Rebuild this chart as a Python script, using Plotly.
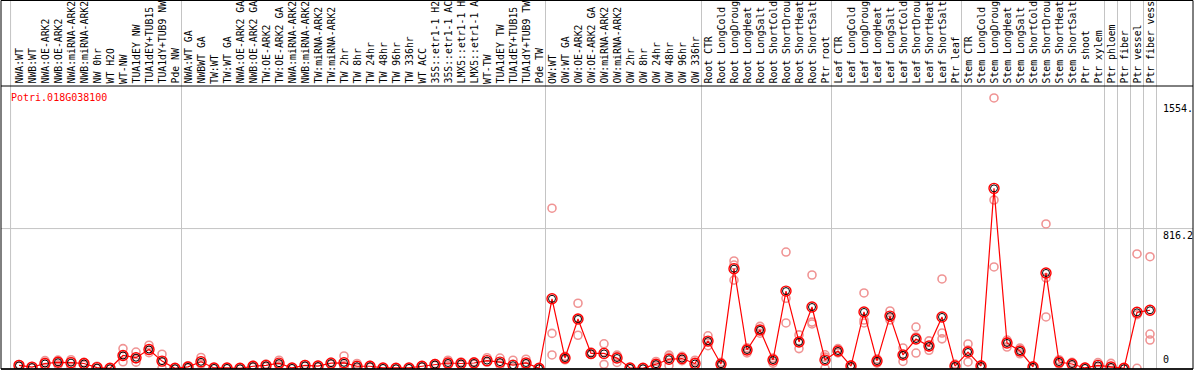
import plotly.graph_objects as go

categories = [
    "NWA:WT", "NWB:WT", "NWA:OE-ARK2", "NWB:OE-ARK2", "NWA:miRNA-ARK2", "NWB:miRNA-ARK2",
    "NW 0hr", "WT H2O", "WT-NW", "TUA1dEY NW", "TUA1dEY+TUB15 NW", "TUA1dY+TUB9 NW", "Pde NW",
    "NWA:WT GA", "NWBWT GA", "TW:WT", "TW:WT GA", "NWA:OE-ARK2 GA", "NWB:OE-ARK2 GA",
    "TW:OE-ARK2", "TW:OE-ARK2 GA", "NWA:miRNA-ARK2 GA", "NWB:miRNA-ARK2 GA", "TW:miRNA-ARK2",
    "TW:miRNA-ARK2 GA", "TW 2hr", "TW 8hr", "TW 24hr", "TW 48hr", "TW 96hr", "TW 336hr",
    "WT ACC", "35S::etr1-1 H2O", "35S::etr1-1 ACC", "LMX5::etr1-1 H2O", "LMX5::etr1-1 ACC",
    "WT-TW", "TUA1dEY TW", "TUA1dEY+TUB15 TW", "TUA1dY+TUB9 TW", "Pde TW",
    "OW:WT", "OW:WT GA", "OW:OE-ARK2", "OW:OE-ARK2 GA", "OW:miRNA-ARK2", "OW:miRNA-ARK2 GA",
    "OW 2hr", "OW 8hr", "OW 24hr", "OW 48hr", "OW 96hr", "OW 336hr",
    "Root CTR", "Root LongCold", "Root LongDrought", "Root LongHeat", "Root LongSalt",
    "Root ShortCold", "Root ShortDrought", "Root ShortHeat", "Root ShortSalt", "Ptr root",
    "Leaf CTR", "Leaf LongCold", "Leaf LongDrought", "Leaf LongHeat", "Leaf LongSalt",
    "Leaf ShortCold", "Leaf ShortDrought", "Leaf ShortHeat", "Leaf ShortSalt", "Ptr leaf",
    "Stem CTR", "Stem LongCold", "Stem LongDrought", "Stem LongHeat", "Stem LongSalt",
    "Stem ShortCold", "Stem ShortDrought", "Stem ShortHeat", "Stem ShortSalt", "Ptr shoot",
    "Ptr xylem", "Ptr phloem", "Ptr fiber", "Ptr vessel", "Ptr fiber vessel",
]

mean_values = [
    17, 7, 28, 35, 33, 28, 4, 0, 75, 62, 110, 42, 0,
    8, 38, 2, 2, 0, 12, 17, 30, 2, 17, 13, 30, 32, 12, 12, 2, 0, 2, 12, 22, 31, 28, 31, 45, 36, 18, 31, 0,
    406, 60, 288, 87, 87, 60, 2, 0, 24, 53, 57, 28,
    159, 24, 582, 107, 224, 48, 451, 154, 358, 48,
    101, 13, 329, 43, 305, 78, 171, 130, 300, 13,
    95, 13, 1051, 148, 101, 8, 557, 37, 25, 2,
    17, 8, 0, 327, 339,
]

rep1 = [
    22, 10, 45, 48, 50, 35, 12, 0, 115, 95, 135, 82, 0,
    15, 63, 4, 4, 0, 18, 25, 47, 4, 22, 18, 36, 72, 28, 18, 4, 0, 4, 16, 28, 47, 37, 38, 62, 60, 47, 53, 0,
    935, 70, 380, 95, 143, 77, 4, 0, 40, 77, 70, 47,
    190, 35, 627, 120, 245, 60, 679, 195, 545, 65,
    115, 20, 440, 55, 335, 119, 241, 160, 522, 25,
    142, 20, 1579, 165, 118, 14, 843, 50, 35, 6,
    33, 29, 0, 668, 652,
]
rep2 = [
    12, 4, 5, 20, 10, 18, 0, 0, 38, 36, 104, 44, 0,
    2, 25, 0, 0, 0, 6, 10, 15, 0, 12, 8, 24, 10, 4, 6, 0, 0, 0, 8, 16, 18, 20, 24, 38, 30, 5, 28, 0,
    204, 50, 193, 80, 23, 34, 0, 0, 10, 17, 45, 0,
    132, 12, 603, 90, 205, 30, 265, 115, 270, 0,
    90, 5, 282, 30, 282, 40, 183, 105, 206, 5,
    37, 5, 983, 124, 85, 0, 300, 25, 15, 0,
    8, 0, 0, 0, 200,
]
rep3 = [
    17, 7, 34, 37, 39, 31, 0, 0, 72, 55, 91, 0, 0,
    7, 26, 2, 2, 0, 12, 16, 28, 2, 17, 13, 30, 14, 4, 12, 2, 0, 2, 12, 22, 28, 27, 31, 35, 18, 2, 12, 0,
    78, 60, 291, 86, 95, 69, 2, 0, 22, 65, 56, 37,
    155, 25, 515, 111, 222, 54, 409, 152, 259, 79,
    98, 14, 265, 44, 298, 75, 89, 125, 172, 9,
    106, 14, 592, 155, 100, 10, 528, 36, 25, 0,
    10, 0, 0, 313, 165,
]

gene_name = "Potri.018G038100"
axis_labels = ["1554.", "816.2", "0"]
axis_label_values = [1554, 816.2, 0]
group_boundaries = [-0.65, 12.5, 40.5, 52.5, 62.5, 72.5, 83.5, 84.5, 85.5, 86.5, 87.5]
LABEL_CHARS = 14  # the label strip only has room for 14 characters

W, H = 1194, 370
L, R, T, B = 1, 1, 86, 1
plot_w = W - L - R
plot_h = H - T - B
PX_PER_CAT = 13.0
x_min = -18.0 / PX_PER_CAT
x_max = x_min + plot_w / PX_PER_CAT
zero_px = 368.3
px_per_unit = 0.1712
y_min = -((H - B) - zero_px) / px_per_unit
y_max = (zero_px - T) / px_per_unit

xs = list(range(len(categories)))
FONT = "DejaVu Sans Mono"

fig = go.Figure()

rx, ry = [], []
for reps in (rep1, rep2, rep3):
    for i, v in enumerate(reps):
        rx.append(i)
        ry.append(v)
fig.add_trace(go.Scatter(
    x=rx, y=ry, mode="markers",
    marker=dict(symbol="circle-open", size=8, color="rgb(240,148,148)",
                line=dict(width=1.6, color="rgb(240,148,148)")),
    hoverinfo="skip", showlegend=False,
))
fig.add_trace(go.Scatter(
    x=xs, y=mean_values, mode="lines",
    line=dict(color="#ff0000", width=1.2),
    showlegend=False,
))
fig.add_trace(go.Scatter(
    x=xs, y=mean_values, mode="markers",
    marker=dict(symbol="circle-open", size=10, color="#ff0000", line=dict(width=1.4, color="#ff0000")),
    showlegend=False,
))
fig.add_trace(go.Scatter(
    x=xs, y=mean_values, mode="markers",
    marker=dict(symbol="circle-open", size=7, color="#000000", line=dict(width=1.0, color="#000000")),
    showlegend=False,
))

top_paper = (H - B - 0.5) / plot_h

shapes = []
for gx in group_boundaries:
    shapes.append(dict(type="line", xref="x", yref="paper", x0=gx, x1=gx, y0=0, y1=top_paper,
                       line=dict(color="#c4c4c4", width=1), layer="below"))
shapes.append(dict(type="line", xref="paper", yref="y", x0=0, x1=1, y0=axis_label_values[1],
                   y1=axis_label_values[1], line=dict(color="#c4c4c4", width=1), layer="below"))
shapes.append(dict(type="rect", xref="paper", yref="paper", x0=0, x1=1, y0=0, y1=top_paper,
                   line=dict(color="black", width=1)))
shapes.append(dict(type="line", xref="paper", yref="paper", x0=0, x1=1, y0=1, y1=1,
                   line=dict(color="black", width=1)))
shapes.append(dict(type="line", xref="paper", yref="paper", x0=0, x1=1, y0=0, y1=0,
                   line=dict(color="black", width=1.5)))

annotations = []
label_y = (H - B - 85) / plot_h
for i, c in enumerate(categories):
    shown = c[:LABEL_CHARS].rstrip()
    annotations.append(dict(x=i, xref="x", y=label_y, yref="paper", text=shown, textangle=-90,
                            showarrow=False, xanchor="center", yanchor="bottom",
                            font=dict(family=FONT, size=9.8, color="black"), borderpad=0))
annotations.append(dict(x=(10 - L) / plot_w, xref="paper", y=(H - B - 97) / plot_h, yref="paper",
                        text=gene_name, showarrow=False, xanchor="left", yanchor="middle",
                        font=dict(family=FONT, size=10, color="#ff0000"), borderpad=0))
lbl_x = (1162 - L) / plot_w
for txt, val in zip(axis_labels, axis_label_values):
    annotations.append(dict(x=lbl_x, xref="paper", y=val, yref="y", text=txt, showarrow=False,
                            xanchor="left", yanchor="bottom" if val == 0 else "top",
                            yshift=2 if val == 0 else 0,
                            font=dict(family=FONT, size=10, color="black"), borderpad=0))

fig.update_layout(
    width=W, height=H,
    margin=dict(l=L, r=R, t=T, b=B, pad=0),
    paper_bgcolor="white", plot_bgcolor="white",
    xaxis=dict(range=[x_min, x_max], showgrid=False, zeroline=False, showticklabels=False,
               ticks="", showline=False),
    yaxis=dict(range=[y_min, y_max], showgrid=False, zeroline=False, showticklabels=False,
               ticks="", showline=False),
    shapes=shapes, annotations=annotations, showlegend=False,
)

fig.write_html(
    "out.html",
    config={"displayModeBar": False},
    post_script="document.body.style.margin='0';document.body.style.overflow='hidden';",
)
